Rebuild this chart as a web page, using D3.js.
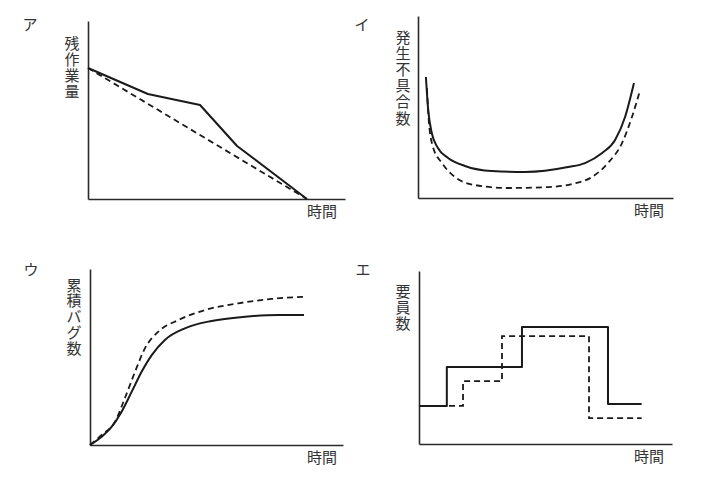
<!DOCTYPE html>
<html>
<head>
<meta charset="utf-8">
<script src="https://cdn.jsdelivr.net/npm/d3@7"></script>
<style>
  html, body { margin: 0; padding: 0; background: #fff; }
  svg { display: block; }
  text { font-family: "Noto Sans CJK JP", "Noto Sans", sans-serif; fill: #333; }
</style>
</head>
<body>
<svg id="chart" width="705" height="485"></svg>
<script>
// ---- data (normalized units 0..100 on each axis) ----
const panelLabels = ["ア", "イ", "ウ", "エ"];
const yLabels = ["残作業量", "発生不具合数", "累積バグ数", "要員数"];
const xLabel = "時間";

// ア: remaining work
const aSolid  = [[0, 73.6], [23.3, 59], [43.6, 52.8], [58, 29.8], [85.2, 0]];
const aDashed = [[0, 73.6], [85.2, 0]];

// イ: defects (bathtub)
const iSolid = [[3.1, 66.5], [4.0, 48.4], [5.4, 35.7], [7.8, 27.5], [11.8, 22], [18.4, 17.6],
  [29, 14.8], [42, 14.3], [58.8, 17], [65.5, 19.2], [72.2, 24.7], [77.3, 31.9], [81.2, 44.5], [84.7, 63.2]];
const iDashed = [[3.5, 60.4], [4.3, 41.2], [5.9, 28], [9.4, 19.2], [14.5, 11.5], [22.4, 7.1],
  [35.3, 5.5], [51, 6], [60.4, 7.7], [68.2, 11.5], [74.5, 19.2], [80, 30.2], [83.9, 44.5], [87.1, 59.3]];

// ウ: cumulative bugs
const uSolid = [[0, 0], [4.6, 4.7], [8.6, 10.4], [12.5, 18.9], [16.5, 30.3], [20.4, 41.6], [24.4, 51.1],
  [29.6, 59.7], [37.5, 66.3], [48.1, 70.5], [61.3, 72.9], [74.4, 73.9], [84.6, 73.9]];
const uDashed = [[0, 0], [4.6, 5.7], [9.9, 13.2], [13.8, 26.7], [17.8, 41.6], [21.7, 54.9], [27, 64.4],
  [34.9, 71], [45.5, 76.7], [58.6, 80.5], [71.8, 83], [85.7, 84.3]];

// エ: staff (step)
const eSolid  = [[0, 22], [11, 44.5], [40.7, 67.6], [74.7, 23.1], [88, 23.1]];
const eDashed = [[0, 22], [17.4, 36.4], [32.8, 62.4], [67.2, 15], [88, 15]];

// ---- layout ----
const panels = [
  { solid: aSolid, dashed: aDashed, curve: d3.curveLinear,
    xr: [88, 345], yr: [199, 21], lab: [30, 30], yl: [72, 42, 16], xl: [322, 217] },
  { solid: iSolid, dashed: iDashed, curve: d3.curveMonotoneX,
    xr: [418, 673], yr: [198, 16], lab: [362, 30], yl: [403, 36, 16.2], xl: [649, 216] },
  { solid: uSolid, dashed: uDashed, curve: d3.curveMonotoneX,
    xr: [90, 343], yr: [445, 269], lab: [31, 275], yl: [74, 284, 15.8], xl: [322, 463] },
  { solid: eSolid, dashed: eDashed, curve: d3.curveStepAfter,
    xr: [419, 672], yr: [444, 271], lab: [363, 275], yl: [403, 290, 16], xl: [649, 462] }
];

const svg = d3.select("#chart");

panels.forEach((p, i) => {
  const x = d3.scaleLinear().domain([0, 100]).range(p.xr);
  const y = d3.scaleLinear().domain([0, 100]).range(p.yr);
  const g = svg.append("g");

  // axes (no ticks)
  g.append("g")
    .attr("transform", `translate(0,${p.yr[0]})`)
    .call(d3.axisBottom(x).ticks(0).tickSizeOuter(0))
    .call(s => s.select(".domain").attr("stroke", "#2a2a2a").attr("stroke-width", 1.6));
  g.append("g")
    .attr("transform", `translate(${p.xr[0]},0)`)
    .call(d3.axisLeft(y).ticks(0).tickSizeOuter(0))
    .call(s => s.select(".domain").attr("stroke", "#2a2a2a").attr("stroke-width", 1.6));

  const line = d3.line().x(d => x(d[0])).y(d => y(d[1])).curve(p.curve);

  g.append("path").datum(p.dashed)
    .attr("d", line).attr("fill", "none")
    .attr("stroke", "#1a1a1a").attr("stroke-width", 1.8)
    .attr("stroke-dasharray", "6,4");
  g.append("path").datum(p.solid)
    .attr("d", line).attr("fill", "none")
    .attr("stroke", "#1a1a1a").attr("stroke-width", 2)
    .attr("stroke-linejoin", "round");

  // panel label
  g.append("text")
    .attr("x", p.lab[0]).attr("y", p.lab[1])
    .attr("text-anchor", "middle")
    .attr("font-size", 15)
    .text(panelLabels[i]);

  // vertical y label: one text per character, stacked
  g.selectAll("text.ych").data(Array.from(yLabels[i])).join("text")
    .attr("class", "ych")
    .attr("x", p.yl[0])
    .attr("y", (d, k) => p.yl[1] + k * p.yl[2])
    .attr("text-anchor", "middle")
    .attr("dominant-baseline", "central")
    .attr("font-size", 15)
    .text(d => d);

  // x label
  g.append("text")
    .attr("x", p.xl[0]).attr("y", p.xl[1])
    .attr("text-anchor", "middle")
    .attr("font-size", 15)
    .text(xLabel);
});
</script>
</body>
</html>
